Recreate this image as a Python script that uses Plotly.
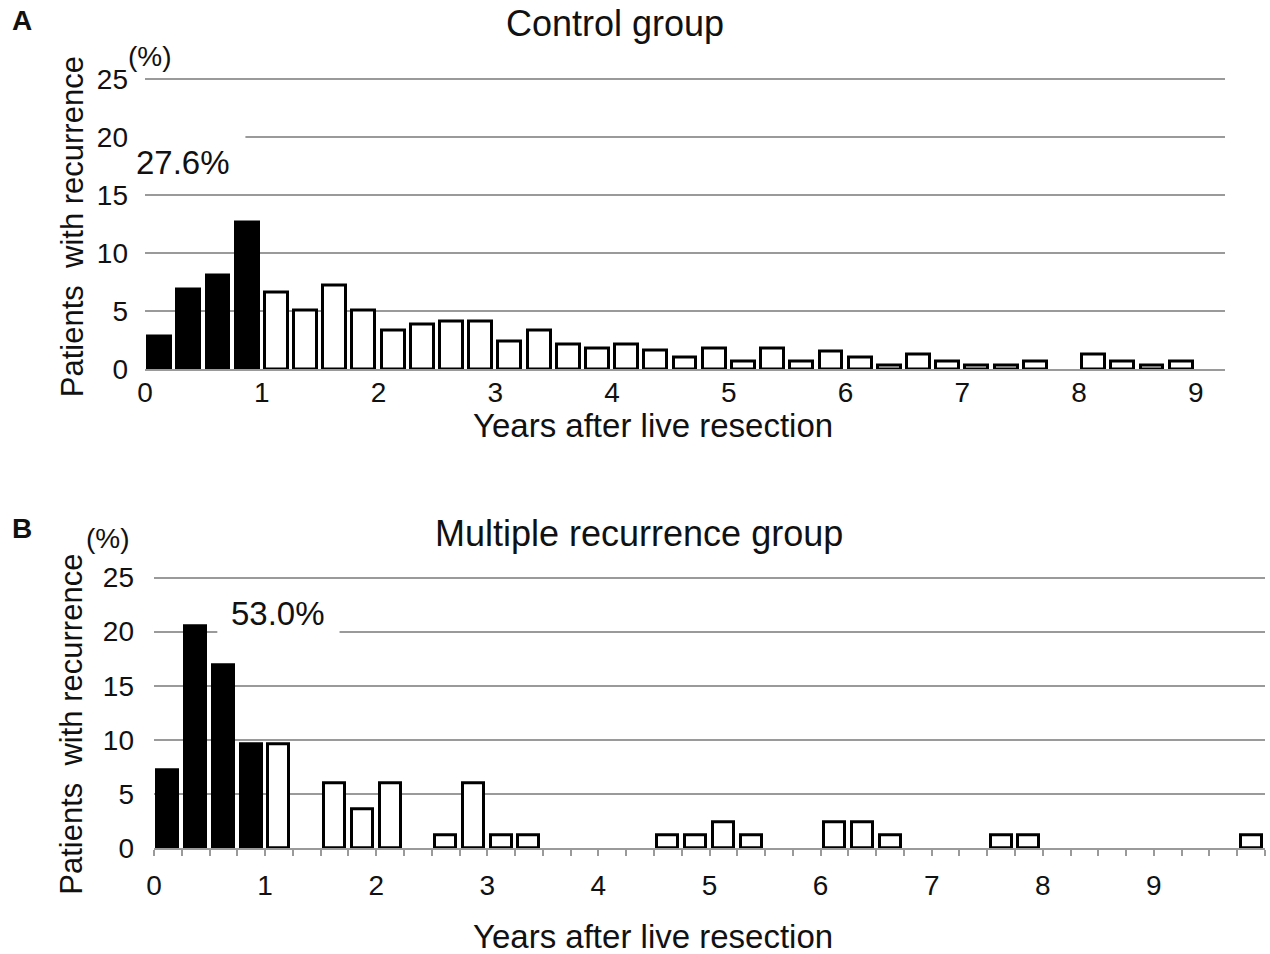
import numpy as np
import plotly.graph_objects as go

# Percentage of patients with recurrence per 3-month interval after liver resection
control_pct = [2.8, 6.9, 8.1, 12.6, 6.6, 5.1, 7.2, 5.1, 3.3, 3.9, 4.1, 4.1,
               2.4, 3.3, 2.1, 1.8, 2.1, 1.6, 1.0, 1.8, 0.7, 1.8, 0.7, 1.5,
               1.0, 0.35, 1.3, 0.7, 0.35, 0.35, 0.7, 0, 1.3, 0.7, 0.35, 0.7]
multiple_pct = [7.2, 20.5, 16.9, 9.6, 9.6, 0, 6.0, 3.6, 6.0, 0, 1.2, 6.0,
                1.2, 1.2, 0, 0, 0, 0, 1.2, 1.2, 2.4, 1.2, 0, 0,
                2.4, 2.4, 1.2, 0, 0, 0, 1.2, 1.2, 0, 0, 0, 0,
                0, 0, 0, 1.2]
bin_years = 0.25           # interval length (years)
first_year_bins = 4        # intervals within the first year (filled black)
year_ticks = list(range(10))
pct_ticks = [0, 5, 10, 15, 20, 25]
first_year_label_a = "27.6%"
first_year_label_b = "53.0%"

W, H = 1270, 954
FONT = "Arial, Liberation Sans, sans-serif"
INK = "#111111"
GRID = "#9a9a9a"

# placement helpers: page pixel -> paper fraction of the drawn figure area
X0, XW = 8, 1262
Y0, YH = 14, 925


def px(x):
    return (x - X0) / XW


def py(y):
    return 1 - (y - Y0) / YH


def bar_trace(values, width, xaxis, yaxis):
    centers = (np.arange(len(values)) + 0.5) * bin_years
    y = [v if v > 0 else None for v in values]
    colors = ["#000000" if i < first_year_bins else "#ffffff" for i in range(len(values))]
    return go.Bar(x=centers, y=y, width=width, xaxis=xaxis, yaxis=yaxis,
                  marker=dict(color=colors, line=dict(color="#000000", width=3)),
                  showlegend=False, hoverinfo="x+y")


fig = go.Figure()
fig.add_trace(bar_trace(control_pct, 0.196, "x", "y"))
fig.add_trace(bar_trace(multiple_pct, 0.189, "x2", "y2"))

axis_font = dict(family=FONT, size=28, color=INK)
TOP = 25.3   # a little headroom so the 25 % gridline is kept

fig.update_layout(
    width=W, height=H, autosize=False,
    margin=dict(l=0, r=0, t=0, b=0),
    paper_bgcolor="white", plot_bgcolor="white",
    bargap=0,
    font=dict(family=FONT, color=INK),
    xaxis=dict(domain=[px(145), px(1225)], range=[0, 9.25], anchor="y",
               tickvals=year_ticks, ticks="", showgrid=False, zeroline=False,
               showline=True, linecolor=GRID, linewidth=1.5,
               ticklabelstandoff=-3, tickfont=axis_font),
    yaxis=dict(domain=[py(371), py(81 - 0.3 * 11.6)], range=[0, TOP], anchor="x",
               tickvals=pct_ticks, showgrid=True, gridcolor=GRID, gridwidth=1.5,
               zeroline=False, showline=False, ticks="",
               ticklabelstandoff=16, tickfont=axis_font),
    xaxis2=dict(domain=[px(154), px(1265)], range=[0, 10], anchor="y2",
                tickvals=year_ticks, ticks="outside", ticklen=6, tickcolor=GRID,
                tickwidth=1.5,
                minor=dict(dtick=bin_years, tick0=0, ticks="outside", ticklen=6,
                           tickcolor=GRID, tickwidth=1.5),
                showgrid=False, zeroline=False, showline=True, linecolor=GRID,
                linewidth=1.5, ticklabelstandoff=6, tickfont=axis_font),
    yaxis2=dict(domain=[py(849), py(579 - 0.3 * 10.8)], range=[0, TOP], anchor="x2",
                tickvals=pct_ticks, showgrid=True, gridcolor=GRID, gridwidth=1.5,
                zeroline=False, showline=False, ticks="",
                ticklabelstandoff=19, tickfont=axis_font),
)

# white boxes behind the first-year percentage labels
fig.add_shape(type="rect", xref="x", yref="y", x0=0, x1=0.86, y0=19.3, y1=20.7,
              fillcolor="white", line=dict(width=0), layer="between")
fig.add_shape(type="rect", xref="x2", yref="y2", x0=0.57, x1=1.67, y0=19.3, y1=20.7,
              fillcolor="white", line=dict(width=0), layer="between")


def label(text, x, y, size, bold=False, angle=0, xanchor="center"):
    fig.add_annotation(text=f"<b>{text}</b>" if bold else text,
                       x=px(x), y=py(y), xref="paper", yref="paper",
                       xanchor=xanchor, yanchor="middle", showarrow=False,
                       textangle=angle,
                       font=dict(family=FONT, size=size, color=INK))


ytitle = "Patients\u00a0\u00a0with recurrence"

# Panel A
label("A", 22, 22, 28, bold=True)
label("Control group", 615, 25, 36)
label("(%)", 150, 58, 28)
label(first_year_label_a, 183, 164, 33)
label("Years after live resection", 653, 427, 33)
label(ytitle, 72, 229, 31, angle=-90)

# Panel B
label("B", 22, 530, 28, bold=True)
label("Multiple recurrence group", 639, 535, 36)
label("(%)", 108, 540, 28)
label(first_year_label_b, 278, 615, 33)
label("Years after live resection", 653, 938, 33)
label(ytitle, 72, 726, 31, angle=-90)

fig.write_html("out.html")
